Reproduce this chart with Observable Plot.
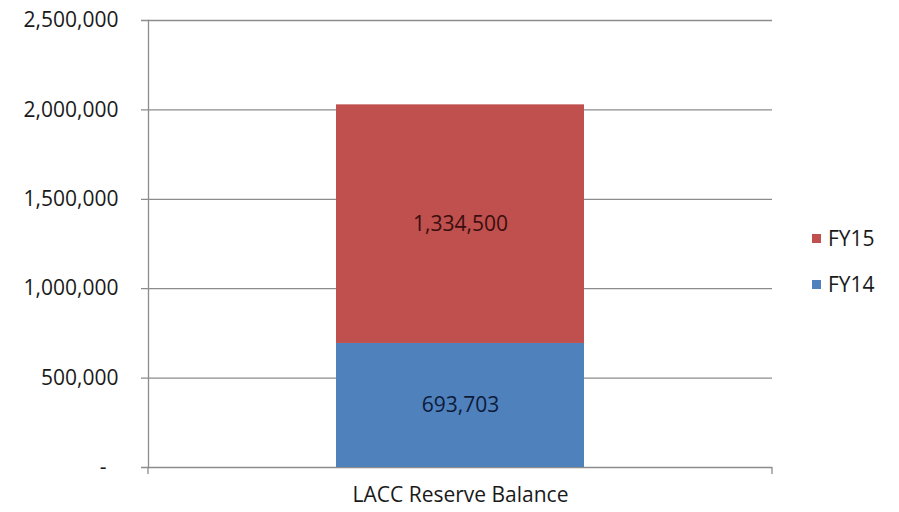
<!DOCTYPE html>
<html>
<head>
<meta charset="utf-8">
<script src="https://cdn.jsdelivr.net/npm/d3@7"></script>
<script src="https://cdn.jsdelivr.net/npm/@observablehq/plot@0.6"></script>
<style>
  html, body { margin: 0; padding: 0; background: #ffffff; }
  #chart { position: relative; width: 899px; height: 512px; font-family: "Open Sans", sans-serif; }
  #legend { position: absolute; left: 812px; top: 225px; font-size: 21px; color: #1a1a1a; }
  #legend .item { display: flex; align-items: center; height: 26px; margin-bottom: 20px; }
  #legend .sw { width: 9px; height: 9px; margin-right: 7px; }
</style>
</head>
<body>
<div id="chart"></div>
<script>
const categories = ["LACC Reserve Balance"];
const seriesNames = ["FY14", "FY15"];
const fy14Values = [693703];
const fy15Values = [1334500];
const yTicks = [0, 500000, 1000000, 1500000, 2000000, 2500000];
const legendOrder = ["FY15", "FY14"];
const colors = {FY14: "#4F81BD", FY15: "#C0504D"};
const labelColors = {FY14: "#0d1b3a", FY15: "#3a0e0e"};

const data = [];
categories.forEach((c, i) => {
  data.push({category: c, series: "FY14", value: fy14Values[i]});
  data.push({category: c, series: "FY15", value: fy15Values[i]});
});

const fmt = d3.format(",");
const gridColor = "#8c8c8c";

function edgeTicks(index, scales, values, dimensions) {
  const {width, height, marginLeft, marginRight, marginBottom} = dimensions;
  const g = d3.create("svg:g").attr("stroke", gridColor).attr("stroke-width", 1.3);
  const yb = height - marginBottom;
  [marginLeft, width - marginRight].forEach(x => {
    g.append("line").attr("x1", x).attr("x2", x).attr("y1", yb).attr("y2", yb + 7);
  });
  return g.node();
}

const plot = Plot.plot({
  width: 899,
  height: 512,
  marginLeft: 148,
  marginRight: 127,
  marginTop: 20,
  marginBottom: 45,
  style: {fontFamily: "Open Sans, sans-serif", fontSize: "21px", color: "#1a1a1a", background: "#ffffff"},
  x: {domain: categories, paddingInner: 0, paddingOuter: 0.758, label: null},
  y: {domain: [0, 2500000], label: null},
  color: {domain: seriesNames, range: seriesNames.map(s => colors[s])},
  marks: [
    Plot.ruleY(yTicks, {stroke: gridColor, strokeWidth: 1.3, strokeOpacity: 1, insetLeft: -7}),
    Plot.frame({anchor: "left", stroke: gridColor, strokeWidth: 1.3, strokeOpacity: 1}),
    Plot.barY(data, Plot.stackY({x: "category", y: "value", fill: "series", order: seriesNames})),
    Plot.text(data, Plot.stackY({
      x: "category", y: "value", z: "series", order: seriesNames,
      text: d => fmt(d.value),
      fill: d => labelColors[d.series],
      fontSize: 21
    })),
    Plot.axisY({ticks: yTicks, tickSize: 0, tickPadding: 30, tickFormat: d => d === 0 ? "-\u2007" : fmt(d), fontSize: 21, fill: "#1a1a1a"}),
    Plot.axisX({tickSize: 0, tickPadding: 20, fontSize: 21, fill: "#1a1a1a"}),
    edgeTicks
  ]
});

document.getElementById("chart").appendChild(plot);

const legend = document.createElement("div");
legend.id = "legend";
legendOrder.forEach(s => {
  const item = document.createElement("div");
  item.className = "item";
  const sw = document.createElement("span");
  sw.className = "sw";
  sw.style.background = colors[s];
  const t = document.createElement("span");
  t.textContent = s;
  item.appendChild(sw);
  item.appendChild(t);
  legend.appendChild(item);
});
document.getElementById("chart").appendChild(legend);
</script>
</body>
</html>
